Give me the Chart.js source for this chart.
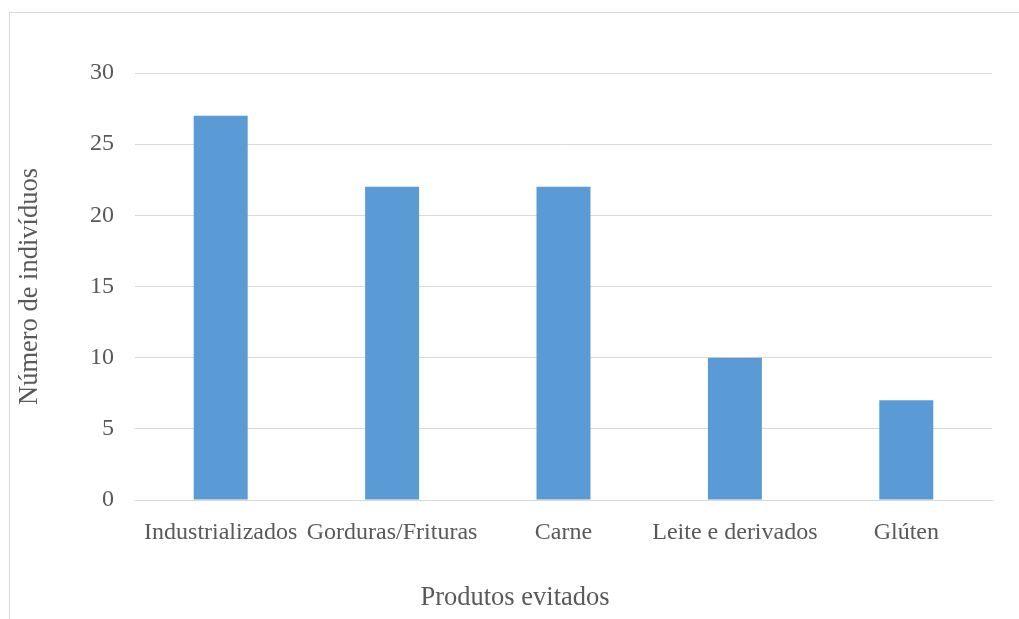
<!DOCTYPE html>
<html>
<head>
<meta charset="utf-8">
<script src="https://cdn.jsdelivr.net/npm/chart.js@4"></script>
<style>
  html, body { margin: 0; padding: 0; background: #fff; overflow: hidden; }
  #moldura {
    position: absolute; left: 9px; top: 12px; width: 1030px; height: 620px;
    border-left: 1px solid #d9d9d9; border-top: 1px solid #d9d9d9;
  }
  #caixa { position: absolute; left: 0; top: 0; width: 1030px; height: 619px; }
</style>
</head>
<body>
<div id="moldura"></div>
<div id="caixa"><canvas id="grafico"></canvas></div>
<script>
// Dados do gráfico
const produtos = ['Industrializados', 'Gorduras/Frituras', 'Carne', 'Leite e derivados', 'Glúten'];
const individuos = [27, 22, 22, 10, 7];
const marcasY = [0, 5, 10, 15, 20, 25, 30];

const corTexto = '#595959';
const familia = "'Liberation Serif', 'Times New Roman', serif";
const fonteMarcas = { family: familia, size: 24 };
const fonteTitulo = { family: familia, size: 26.5, weight: 'normal' };

new Chart(document.getElementById('grafico'), {
    type: 'bar',
    data: {
        labels: produtos,
        datasets: [{
            label: 'Número de indivíduos',
            data: individuos,
            backgroundColor: '#5b9bd5',
            barPercentage: 0.315,
            categoryPercentage: 1
        }]
    },
    options: {
        responsive: true,
        maintainAspectRatio: false,
        animation: false,
        layout: { padding: { top: 73, right: 0, left: 0, bottom: 0 } },
        plugins: {
            legend: { display: false },
            tooltip: { enabled: false },
            title: {
                display: true,
                position: 'bottom',
                text: 'Produtos evitados',
                color: corTexto,
                font: fonteTitulo,
                padding: { top: 0, bottom: 5 }
            }
        },
        scales: {
            x: {
                grid: { display: false, drawTicks: false },
                border: { color: '#d9d9d9', width: 1 },
                ticks: { color: corTexto, font: fonteMarcas, padding: 18, maxRotation: 0, autoSkip: false },
                afterFit: function(escala) { escala.height = 82.2; }
            },
            y: {
                min: 0,
                max: 30,
                afterBuildTicks: function(escala) {
                    escala.ticks = marcasY.map(v => ({ value: v }));
                },
                grid: { color: '#d9d9d9', lineWidth: 1, drawTicks: false },
                border: { display: false },
                ticks: { color: corTexto, font: fonteMarcas, padding: 21 },
                title: {
                    display: true,
                    text: 'Número de indivíduos',
                    color: corTexto,
                    font: fonteTitulo,
                    padding: { top: 14, bottom: 0 }
                },
                afterFit: function(escala) { escala.width = 135; }
            },
            // eixo vazio à direita só para reservar a margem
            margemDireita: {
                type: 'linear',
                position: 'right',
                grid: { display: false, drawTicks: false },
                border: { display: false },
                ticks: { display: false },
                afterFit: function(escala) { escala.width = 38; }
            }
        }
    }
});
</script>
</body>
</html>
